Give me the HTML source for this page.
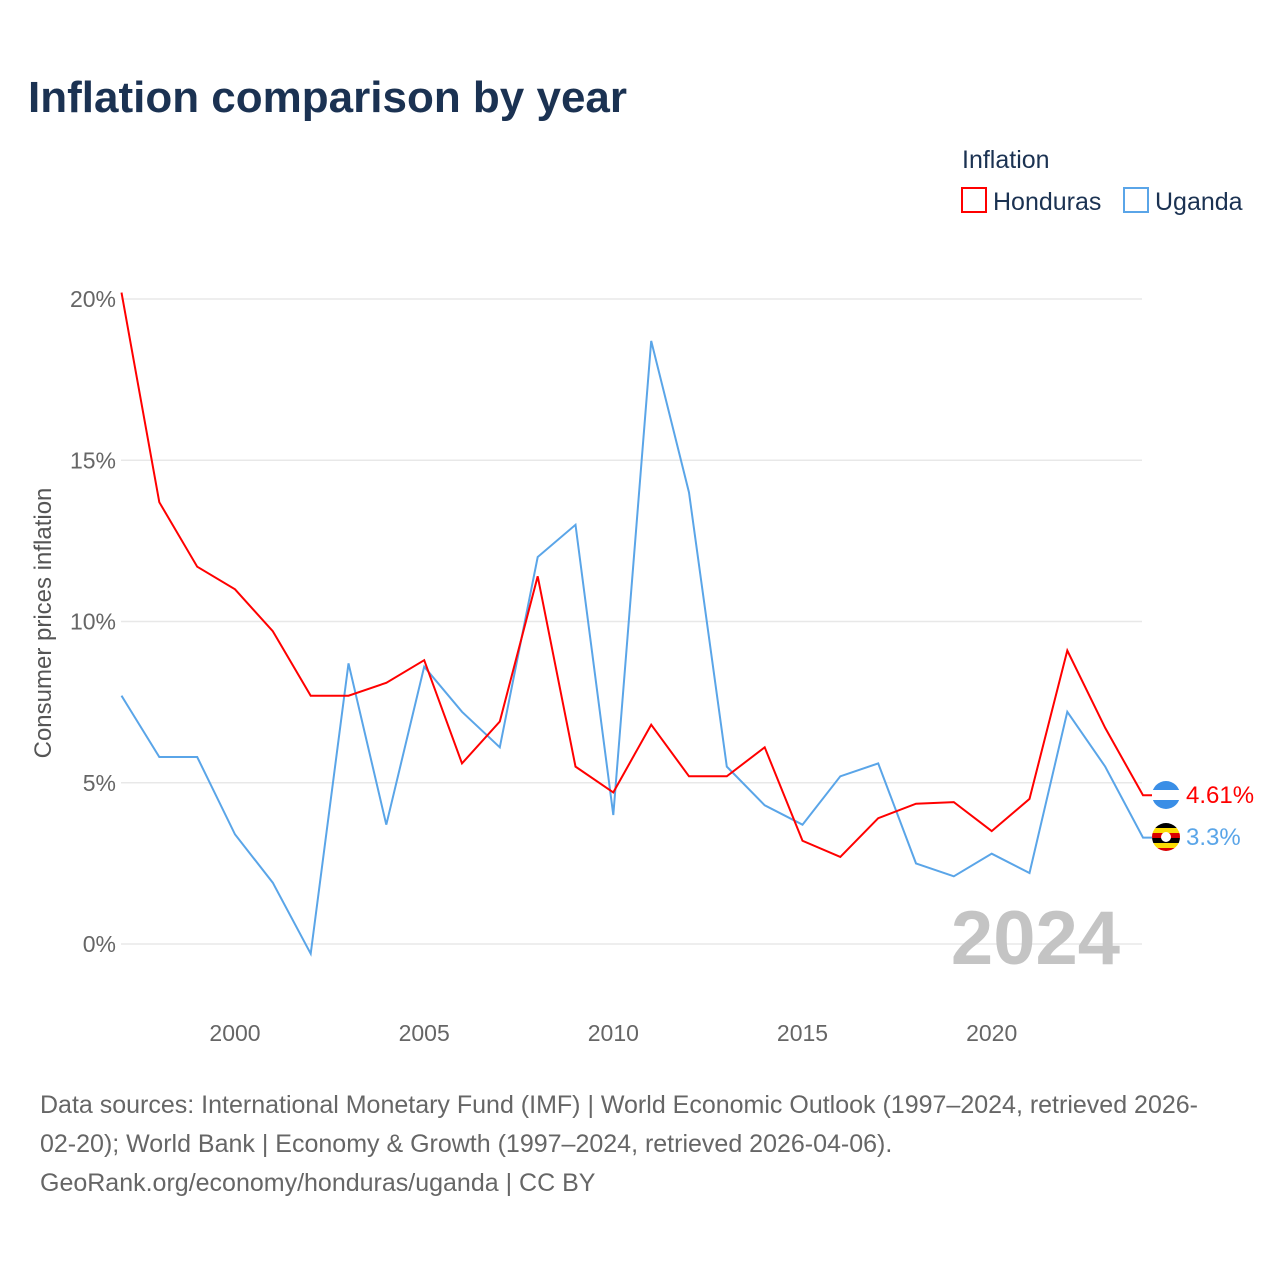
<!DOCTYPE html>
<html><head><meta charset="utf-8"><style>
body{margin:0;background:#fff;font-family:"Liberation Sans",sans-serif;}
svg text{font-family:"Liberation Sans",sans-serif;}
</style></head><body>
<svg width="1280" height="1280" xmlns="http://www.w3.org/2000/svg">
<text x="28" y="112" font-size="44" font-weight="bold" fill="#1b3252">Inflation comparison by year</text>
<text x="962" y="168" font-size="25" fill="#1b3252">Inflation</text>
<g><rect x="962" y="188" width="24" height="24" fill="none" stroke="#f00" stroke-width="2"/><text x="993" y="210" font-size="25" fill="#1b3252">Honduras</text></g>
<g><rect x="1124" y="188" width="24" height="24" fill="none" stroke="#5aa5e8" stroke-width="2"/><text x="1155" y="210" font-size="25" fill="#1b3252">Uganda</text></g>
<g id="grid"></g>
<g id="yticks"></g>
<g id="xticks"></g>
<text transform="translate(51,623) rotate(-90)" text-anchor="middle" font-size="24" fill="#555">Consumer prices inflation</text>
<text x="1120" y="964" text-anchor="end" font-size="76" font-weight="bold" fill="#c4c4c4">2024</text>
<g id="series"></g>
<g><circle cx="1166" cy="795" r="14" fill="#3a8ee6"/><rect x="1152" y="790" width="28" height="10" fill="#fff"/></g>
<g><clipPath id="uc"><circle cx="1166" cy="837" r="14"/></clipPath><g clip-path="url(#uc)"><rect x="1150" y="823" width="32" height="5" fill="#000"/><rect x="1150" y="828" width="32" height="5" fill="#fcdc04"/><rect x="1150" y="833" width="32" height="5" fill="#d90000"/><rect x="1150" y="838" width="32" height="5" fill="#000"/><rect x="1150" y="843" width="32" height="5" fill="#fcdc04"/><rect x="1150" y="848" width="32" height="5" fill="#d90000"/><circle cx="1166" cy="837" r="5" fill="#fff"/></g></g>
<text x="1186" y="803" font-size="24" fill="#f00">4.61%</text>
<text x="1186" y="845" font-size="24" fill="#5aa5e8">3.3%</text>
<text font-size="25" fill="#666"><tspan x="40" y="1113">Data sources: International Monetary Fund (IMF) | World Economic Outlook (1997–2024, retrieved 2026-</tspan><tspan x="40" y="1152">02-20); World Bank | Economy &amp; Growth (1997–2024, retrieved 2026-04-06).</tspan><tspan x="40" y="1191">GeoRank.org/economy/honduras/uganda | CC BY</tspan></text>
</svg>
<script>
const years=[1997,1998,1999,2000,2001,2002,2003,2004,2005,2006,2007,2008,2009,2010,2011,2012,2013,2014,2015,2016,2017,2018,2019,2020,2021,2022,2023,2024];
const honduras=[20.2,13.7,11.7,11.0,9.7,7.7,7.7,8.1,8.8,5.6,6.9,11.4,5.5,4.7,6.8,5.2,5.2,6.1,3.2,2.7,3.9,4.35,4.4,3.5,4.5,9.1,6.7,4.61];
const uganda=[7.7,5.8,5.8,3.4,1.9,-0.3,8.7,3.7,8.6,7.2,6.1,12.0,13.0,4.0,18.7,14.0,5.5,4.3,3.7,5.2,5.6,2.5,2.1,2.8,2.2,7.2,5.5,3.3];
const yTicks=[0,5,10,15,20];
const xTicks=[2000,2005,2010,2015,2020];
const NS="http://www.w3.org/2000/svg";
const xs=y=>121.5+(y-1997)*(1143-121.5)/27;
const ys=v=>944-v*32.25;
const grid=document.getElementById('grid'),yt=document.getElementById('yticks'),xt=document.getElementById('xticks'),ser=document.getElementById('series');
yTicks.forEach(t=>{
 const l=document.createElementNS(NS,'line');
 l.setAttribute('x1',121);l.setAttribute('x2',1142);l.setAttribute('y1',ys(t));l.setAttribute('y2',ys(t));
 l.setAttribute('stroke','#e8e8e8');l.setAttribute('stroke-width','1.5');
 
 
 grid.appendChild(l);
 const tx=document.createElementNS(NS,'text');
 tx.setAttribute('x',116);tx.setAttribute('y',ys(t)+8);tx.setAttribute('text-anchor','end');
 tx.setAttribute('font-size','23');tx.setAttribute('fill','#666');tx.textContent=t+'%';
 
 
 yt.appendChild(tx);
});
xTicks.forEach(t=>{
 const tx=document.createElementNS(NS,'text');
 tx.setAttribute('x',xs(t));tx.setAttribute('y',1041);tx.setAttribute('text-anchor','middle');
 tx.setAttribute('font-size','23');tx.setAttribute('fill','#666');tx.textContent=t;
 
 
 xt.appendChild(tx);
});
function line(vals,color,name){
 let d=vals.map((v,i)=>(i?'L':'M')+xs(years[i]).toFixed(1)+','+ys(v).toFixed(1)).join(' ');
 d+=' L1152,'+ys(vals[vals.length-1]).toFixed(1);
 const p=document.createElementNS(NS,'path');
 p.setAttribute('d',d);p.setAttribute('fill','none');p.setAttribute('stroke',color);p.setAttribute('stroke-width','2');
 
 
 ser.appendChild(p);
}
line(uganda,'#5aa5e8','uganda-line');
line(honduras,'#f00','honduras-line');
</script>
</body></html>
